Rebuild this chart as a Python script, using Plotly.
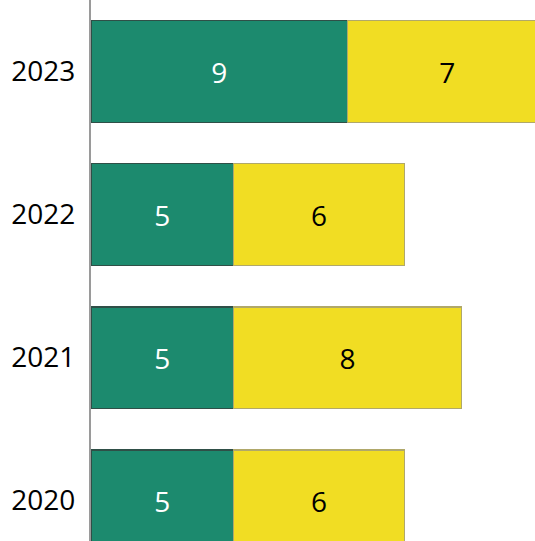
import plotly.graph_objects as go

years = ["2020", "2021", "2022", "2023"]
green_vals = [5, 5, 5, 9]
yellow_vals = [6, 8, 6, 7]

GREEN = "#1c8a6e"
YELLOW = "#f1dd23"

fig = go.Figure()
fig.add_trace(go.Bar(
    y=years, x=green_vals, orientation="h",
    marker=dict(color=GREEN, line=dict(color="#2f4f47", width=1.5)),
    text=[str(v) for v in green_vals], textposition="inside",
    insidetextanchor="middle",
    textfont=dict(color="white", size=28, family="Open Sans"),
    hoverinfo="skip",
))
fig.add_trace(go.Bar(
    y=years, x=yellow_vals, orientation="h",
    marker=dict(color=YELLOW, line=dict(color="#b0a86a", width=1.5)),
    text=[str(v) for v in yellow_vals], textposition="inside",
    insidetextanchor="middle",
    textfont=dict(color="black", size=28, family="Open Sans"),
    hoverinfo="skip",
))

fig.update_layout(
    width=535, height=541,
    margin=dict(l=91, r=0, t=0, b=0),
    barmode="stack", bargap=0.29,
    showlegend=False,
    plot_bgcolor="white", paper_bgcolor="white",
    uniformtext=dict(minsize=10, mode="show"),
)
fig.update_xaxes(range=[0, 15.58], visible=False, fixedrange=True)
fig.update_yaxes(
    type="category", categoryorder="array", categoryarray=years,
    range=[-0.283, 3.5],
    showline=True, linecolor="#9a9a9a", linewidth=2,
    showgrid=False, ticks="", ticklabelstandoff=8,
    tickfont=dict(family="Open Sans", size=28, color="black"),
    fixedrange=True,
)

fig.write_html(
    "out.html",
    config={"displayModeBar": False},
    post_script="document.body.style.margin='0';document.body.style.overflow='hidden';",
)
